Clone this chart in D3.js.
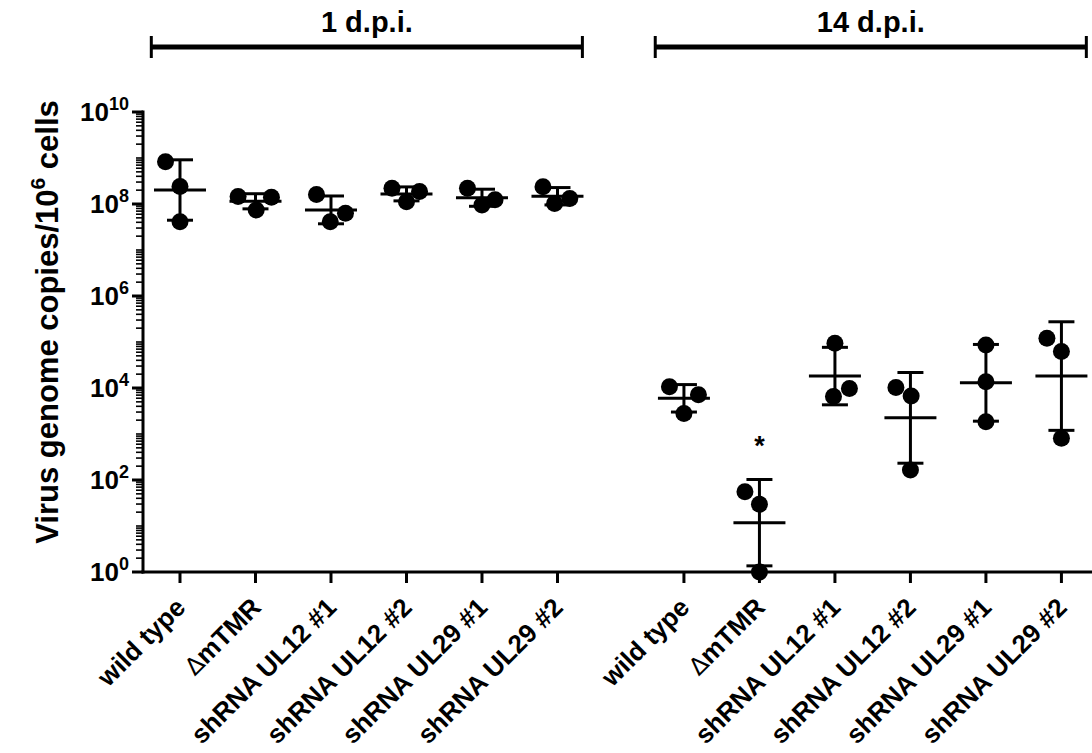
<!DOCTYPE html>
<html><head><meta charset="utf-8">
<script src="https://cdn.jsdelivr.net/npm/d3@7"></script>
<style>
html,body{margin:0;padding:0;background:#fff;}
text{font-family:"Liberation Sans",Arial,sans-serif;font-weight:bold;fill:#000;}
</style></head>
<body><svg id="chart" width="1092" height="753"></svg>
<script>
// ---------------- data ----------------
const groups = ["1 d.p.i.", "14 d.p.i."];
const categories = ["wild type", "\u0394mTMR", "shRNA UL12 #1", "shRNA UL12 #2", "shRNA UL29 #1", "shRNA UL29 #2"];
// three replicates per category, virus genome copies / 10^6 cells
const values1dpi = [
  [8.3e8, 2.4e8, 4.1e7],
  [1.45e8, 7.4e7, 1.4e8],
  [1.6e8, 4.1e7, 6.3e7],
  [2.19e8, 1.86e8, 1.12e8],
  [2.19e8, 9.5e7, 1.23e8],
  [2.38e8, 1.02e8, 1.32e8]
];
const values14dpi = [
  [1.07e4, 7.1e3, 2.8e3],
  [55.7, 29.6, 1],
  [9.4e4, 6.5e3, 9.8e3],
  [1.02e4, 6.7e3, 165],
  [8.6e4, 1.37e4, 1.85e3],
  [1.2e5, 6.2e4, 807]
];
// horizontal scatter slot of each replicate (Prism column scatter)
const jitter1dpi = [[-1,0,0],[-1.2,0.05,1.1],[-1,-0.05,1],[-1,0.9,0],[-1,0,0.9],[-1,-0.2,0.85]];
const jitter14dpi = [[-1,1,0],[-1,0,0],[0,-0.1,1],[-1,0.05,0],[0,0,0],[-1,0,0]];
const significant14dpi = [false, true, false, false, false, false];
const yTickExponents = [0, 2, 4, 6, 8, 10];
const yLabel = "Virus genome copies/10";
const yLabelSup = "6";
const yLabelEnd = " cells";

// ---------------- layout ----------------
const svg = d3.select("#chart");
const axisX = 143, axisBottom = 572, axisTop = 112;
const groupGap = 0.675;
const nCat = categories.length;
const pos = (g, i) => g * (nCat + groupGap) + i;

const x = d3.scaleLinear().domain([-0.49, 12.08]).range([axisX, 1092]);
const y = d3.scaleLog().domain([1, 1e10]).range([axisBottom, axisTop]);

const allValues = [values1dpi, values14dpi];
const allJitter = [jitter1dpi, jitter14dpi];
const jitterUnit = 14.5, r = 8.5;
const meanHalf = 26, capHalf = 13;

// ---------------- axes ----------------
svg.append("line").attr("x1", axisX).attr("x2", axisX).attr("y1", y(1e10) - 1.5).attr("y2", axisBottom + 1.5)
  .attr("stroke", "#000").attr("stroke-width", 3);
svg.append("line").attr("x1", axisX - 1.5).attr("x2", 1092).attr("y1", axisBottom).attr("y2", axisBottom)
  .attr("stroke", "#000").attr("stroke-width", 3);

// minor ticks (2..9 x 10^k and odd decades)
const minor = [];
for (let e = 0; e < 10; e++) {
  for (let m = 2; m <= 9; m++) minor.push(m * Math.pow(10, e));
  if (e % 2 === 1) minor.push(Math.pow(10, e));
}
svg.append("g").selectAll("line").data(minor).join("line")
  .attr("x1", axisX - 7).attr("x2", axisX).attr("y1", d => y(d)).attr("y2", d => y(d))
  .attr("stroke", "#000").attr("stroke-width", 1.6);
svg.append("g").selectAll("line").data(yTickExponents).join("line")
  .attr("x1", axisX - 11).attr("x2", axisX).attr("y1", d => y(Math.pow(10, d))).attr("y2", d => y(Math.pow(10, d)))
  .attr("stroke", "#000").attr("stroke-width", 3);
const yl = svg.append("g").selectAll("text").data(yTickExponents).join("text")
  .attr("x", axisX - 14).attr("y", d => y(Math.pow(10, d)) + 9)
  .attr("text-anchor", "end").style("font-size", "26px");
yl.append("tspan").text("10");
yl.append("tspan").text(d => d).style("font-size", "18px").attr("dy", -11);

// x ticks and labels
const cats = [];
groups.forEach((g, gi) => categories.forEach((c, i) => cats.push({ g: gi, i, name: c, p: pos(gi, i) })));
svg.append("g").selectAll("line").data(cats).join("line")
  .attr("x1", d => x(d.p)).attr("x2", d => x(d.p)).attr("y1", axisBottom).attr("y2", axisBottom + 11)
  .attr("stroke", "#000").attr("stroke-width", 3);
const xl = svg.append("g").selectAll("text").data(cats).join("text")
  .attr("transform", d => `translate(${x(d.p) + 7},${axisBottom + 37}) rotate(-45)`)
  .attr("text-anchor", "end").style("font-size", "26px");
xl.each(function (d) {
  const t = d3.select(this);
  if (d.name.startsWith("\u0394")) {
    t.append("tspan").text("\u0394").style("font-weight", "normal").style("font-family", "'DejaVu Sans',sans-serif").style("font-size", "24px");
    t.append("tspan").text(d.name.slice(1));
  } else t.text(d.name);
});

// y axis title
const yt = svg.append("text").attr("transform", `translate(58,322) rotate(-90)`)
  .attr("text-anchor", "middle").style("font-size", "31px");
yt.append("tspan").text(yLabel);
yt.append("tspan").text(yLabelSup).style("font-size", "21px").attr("dy", -13);
yt.append("tspan").text(yLabelEnd).attr("dy", 13);

// group brackets
groups.forEach((g, gi) => {
  const x0 = x(pos(gi, 0) - 0.38), x1 = x(pos(gi, nCat - 1) + 0.33);
  const gg = svg.append("g");
  gg.append("line").attr("x1", x0).attr("x2", x1).attr("y1", 47).attr("y2", 47).attr("stroke", "#000").attr("stroke-width", 5);
  [x0, x1].forEach(xx => gg.append("line").attr("x1", xx).attr("x2", xx).attr("y1", 36).attr("y2", 58).attr("stroke", "#000").attr("stroke-width", 3));
  gg.append("text").attr("x", (x0 + x1) / 2).attr("y", 32).attr("text-anchor", "middle").style("font-size", "29px").text(g);
});

// ---------------- data marks ----------------
groups.forEach((g, gi) => {
  allValues[gi].forEach((vals, i) => {
    const cx = x(pos(gi, i));
    const logs = vals.map(Math.log10);
    const m = d3.mean(logs), sd = d3.deviation(logs);
    const mean = Math.pow(10, m), lo = Math.pow(10, m - sd), hi = Math.pow(10, m + sd);
    const gp = svg.append("g");
    gp.selectAll("circle").data(vals).join("circle")
      .attr("cx", (d, k) => cx + allJitter[gi][i][k] * jitterUnit)
      .attr("cy", d => y(d)).attr("r", r).attr("fill", "#000");
    gp.append("line").attr("x1", cx).attr("x2", cx).attr("y1", y(hi)).attr("y2", y(lo)).attr("stroke", "#000").attr("stroke-width", 3);
    [hi, lo].forEach(v => gp.append("line").attr("x1", cx - capHalf).attr("x2", cx + capHalf).attr("y1", y(v)).attr("y2", y(v)).attr("stroke", "#000").attr("stroke-width", 3));
    gp.append("line").attr("x1", cx - meanHalf).attr("x2", cx + meanHalf).attr("y1", y(mean)).attr("y2", y(mean)).attr("stroke", "#000").attr("stroke-width", 3);
    if (gi === 1 && significant14dpi[i]) {
      gp.append("text").attr("x", cx).attr("y", y(hi) - 24).attr("text-anchor", "middle").style("font-size", "27px").text("*");
    }
  });
});
</script></body></html>
